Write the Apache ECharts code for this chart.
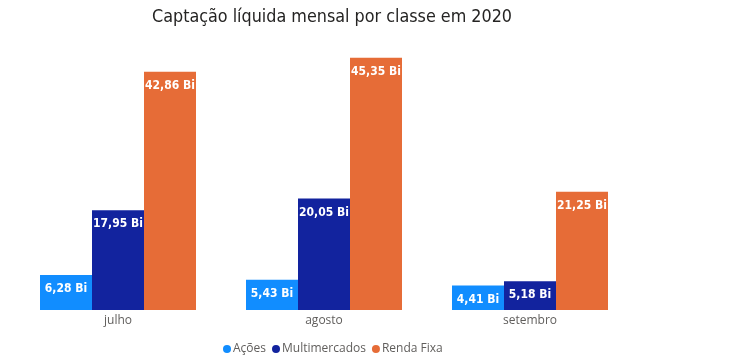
<!DOCTYPE html>
<html><head><meta charset="utf-8">
<script src="https://cdn.jsdelivr.net/npm/echarts@6/dist/echarts.min.js"></script>
<style>html,body{margin:0;padding:0;background:#fff}#c{width:750px;height:355px}</style>
</head><body><div id="c"></div>
<script>
const categories = ['julho', 'agosto', 'setembro'];
const acoes = [6.28, 5.43, 4.41];
const multimercados = [17.95, 20.05, 5.18];
const rendaFixa = [42.86, 45.35, 21.25];
const seriesNames = ['Ações', 'Multimercados', 'Renda Fixa'];
const colors = ['#118DFF', '#12239E', '#E66C37'];

const chart = echarts.init(document.getElementById('c'));
const fmt = p => p.value.toFixed(2).replace('.', ',') + ' Bi';
const mk = (name, data, color) => ({
  name, type: 'bar', data, barWidth: 52, barGap: '0%',
  itemStyle: { color },
  label: { show: true, position: 'insideTop', distance: 8, formatter: fmt,
    color: '#fff', fontFamily: 'DejaVu Sans Condensed', fontWeight: 'bold', fontSize: 12 }
});
chart.setOption({
  animation: false,
  title: { text: 'Captação líquida mensal por classe em 2020', left: 147, top: 3,
    textStyle: { fontFamily: 'DejaVu Sans Condensed', fontWeight: 'normal', fontSize: 17.8, color: '#252423' } },
  legend: { left: 218, top: 338, itemWidth: 8, itemHeight: 8, itemGap: 6, icon: 'circle',
    textStyle: { color: '#605E5C', fontFamily: 'Open Sans', fontSize: 12, padding: [0,0,0,-3] },
    data: seriesNames },
  grid: { left: 15, right: 117, top: 32, bottom: 45 },
  xAxis: { type: 'category', data: categories,
    axisLine: { show: false }, axisTick: { show: false },
    axisLabel: { color: '#605E5C', fontFamily: 'Open Sans', fontSize: 12, margin: 5 } },
  yAxis: { type: 'value', min: 0, max: 50, show: false, splitLine: { show: false } },
  series: [mk(seriesNames[0], acoes, colors[0]), mk(seriesNames[1], multimercados, colors[1]), mk(seriesNames[2], rendaFixa, colors[2])]
});
</script></body></html>
